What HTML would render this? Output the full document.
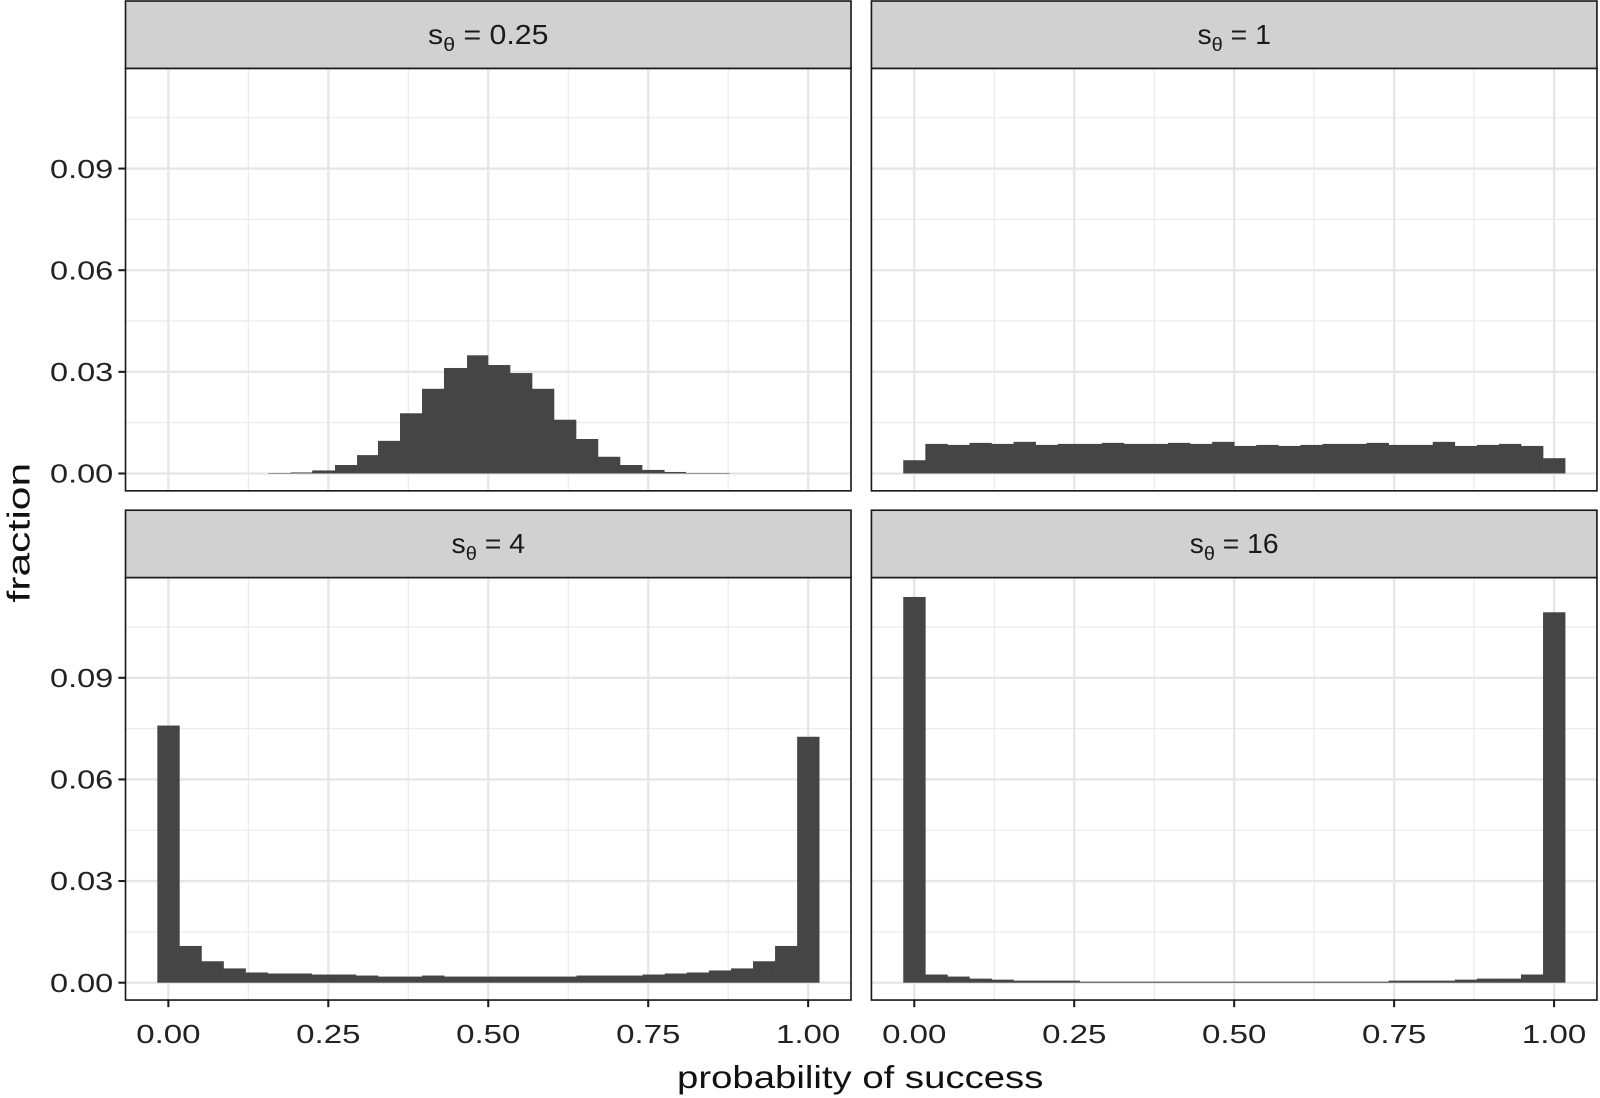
<!DOCTYPE html>
<html><head><meta charset="utf-8"><style>
html,body{margin:0;padding:0;background:#fff;}
svg{display:block;font-family:"Liberation Sans",Arial,sans-serif;}
</style></head><body>
<svg id="s" width="1600" height="1098" viewBox="0 0 1568 1076" preserveAspectRatio="none" xmlns="http://www.w3.org/2000/svg"></svg>
<script>
const s=document.getElementById('s');let h='';
const bw=627/29;
function panel(px,py,title,tl,bars){
  const L=px-42,R=px+669,T=py,B=py+414;
  const x0=px; const sc=627;
  const base=B-17, k=33.2;
  h+=`<rect x="${L}" y="${T}" width="${R-L}" height="${B-T}" fill="#fff"/>`;
  for(let v=0.125;v<1;v+=0.25){const x=x0+v*sc;h+=`<line x1="${x}" y1="${T}" x2="${x}" y2="${B}" stroke="#ebebeb" stroke-width="1.2"/>`;}
  for(const v of [0.015,0.045,0.075,0.105]){const y=base-v*100*k;h+=`<line x1="${L}" y1="${y}" x2="${R}" y2="${y}" stroke="#ebebeb" stroke-width="1.2"/>`;}
  for(const v of [0,0.25,0.5,0.75,1]){const x=x0+v*sc;h+=`<line x1="${x}" y1="${T}" x2="${x}" y2="${B}" stroke="#e6e6e6" stroke-width="2.3"/>`;}
  for(const v of [0,0.03,0.06,0.09]){const y=base-v*100*k;h+=`<line x1="${L}" y1="${y}" x2="${R}" y2="${y}" stroke="#e6e6e6" stroke-width="2.3"/>`;}
  for(const b of bars){h+=`<rect x="${b[0]}" y="${b[2]}" width="${b[1]-b[0]+0.3}" height="${base-b[2]}" fill="#454545"/>`;}
  h+=`<rect x="${L}" y="${T}" width="${R-L}" height="${B-T}" fill="none" stroke="#1a1a1a" stroke-width="1.6"/>`;
  h+=`<rect x="${L}" y="${T-66}" width="${R-L}" height="66" fill="#d1d1d1" stroke="#1a1a1a" stroke-width="1.6"/>`;
  h+=`<text x="${(L+R)/2}" y="${T-24}" font-size="27" text-anchor="middle" fill="#1a1a1a" textLength="${tl}" lengthAdjust="spacingAndGlyphs">s<tspan font-size="19" dy="7">θ</tspan><tspan dy="-7"> = ${title}</tspan></text>`;
  return {L,R,T,B,base,x0};
}
function std(x0,tops){return tops.map((t,i)=>[x0+(i-0.5)*bw,x0+(i+0.5)*bw,t]);}
const tl=[[263,285,463.5],[285,306,463],[306,328,461],[328.3,349.9,455.7],[349.9,370.4,446],[370.4,392,432],[392,413.6,405],[413.6,435.1,381],[435.1,457.7,360.6],[457.7,478.2,348.2],[478.2,499.8,357.7],[499.8,521.4,365.6],[521.4,542.9,381],[542.9,564.5,411.3],[564.5,586,430.2],[586,607.6,447.6],[607.6,629.2,455.7],[629.2,651,460.5],[651,672,462.5],[672,715,463.5]];
const p1=panel(165,67,'0.25',118,tl);
const tr=[451,435,436,434,435,433,436,435,435,434,435,435,434,435,433,437,436,437,436,435,435,434,436,436,433,437,436,435,437,449];
const p2=panel(896,67,'1',72,std(896,tr));
const bl=[711,927,942,949,953,954,954,955,955,956,957,957,956,957,957,957,957,957,957,956,956,956,955,954,953,951,949,942,927,722];
const p3=panel(165,566,'4',72,std(165,bl));
const br=[585,955,957,959,960,961,961,961,962,962,962,962,962,962,962,962,962,962,962,962,962,962,961,961,961,960,959,959,955,600];
const p4=panel(896,566,'16',87,std(896,br));
for(const p of [p1,p3]){
  for(const v of [0,0.03,0.06,0.09]){const y=p.base-v*100*33.2;
    h+=`<line x1="${p.L-7}" y1="${y}" x2="${p.L}" y2="${y}" stroke="#1a1a1a" stroke-width="2"/>`;
    h+=`<text x="${p.L-12}" y="${y+9}" font-size="25" text-anchor="end" fill="#222" textLength="62" lengthAdjust="spacingAndGlyphs">${v.toFixed(2)}</text>`;}
}
for(const p of [p3,p4]){
  for(const v of [0,0.25,0.5,0.75,1]){const x=p.x0+v*627;
    h+=`<line x1="${x}" y1="${p.B}" x2="${x}" y2="${p.B+7}" stroke="#1a1a1a" stroke-width="2"/>`;
    h+=`<text x="${x}" y="${p.B+42}" font-size="25" text-anchor="middle" fill="#222" textLength="63" lengthAdjust="spacingAndGlyphs">${v.toFixed(2)}</text>`;}
}
h+=`<text x="843" y="1066" font-size="31" text-anchor="middle" fill="#111" textLength="359" lengthAdjust="spacingAndGlyphs">probability of success</text>`;
h+=`<text transform="translate(29,522) rotate(-90)" font-size="31" text-anchor="middle" fill="#111" textLength="137" lengthAdjust="spacingAndGlyphs">fraction</text>`;
s.innerHTML=h;
</script>
</body></html>
